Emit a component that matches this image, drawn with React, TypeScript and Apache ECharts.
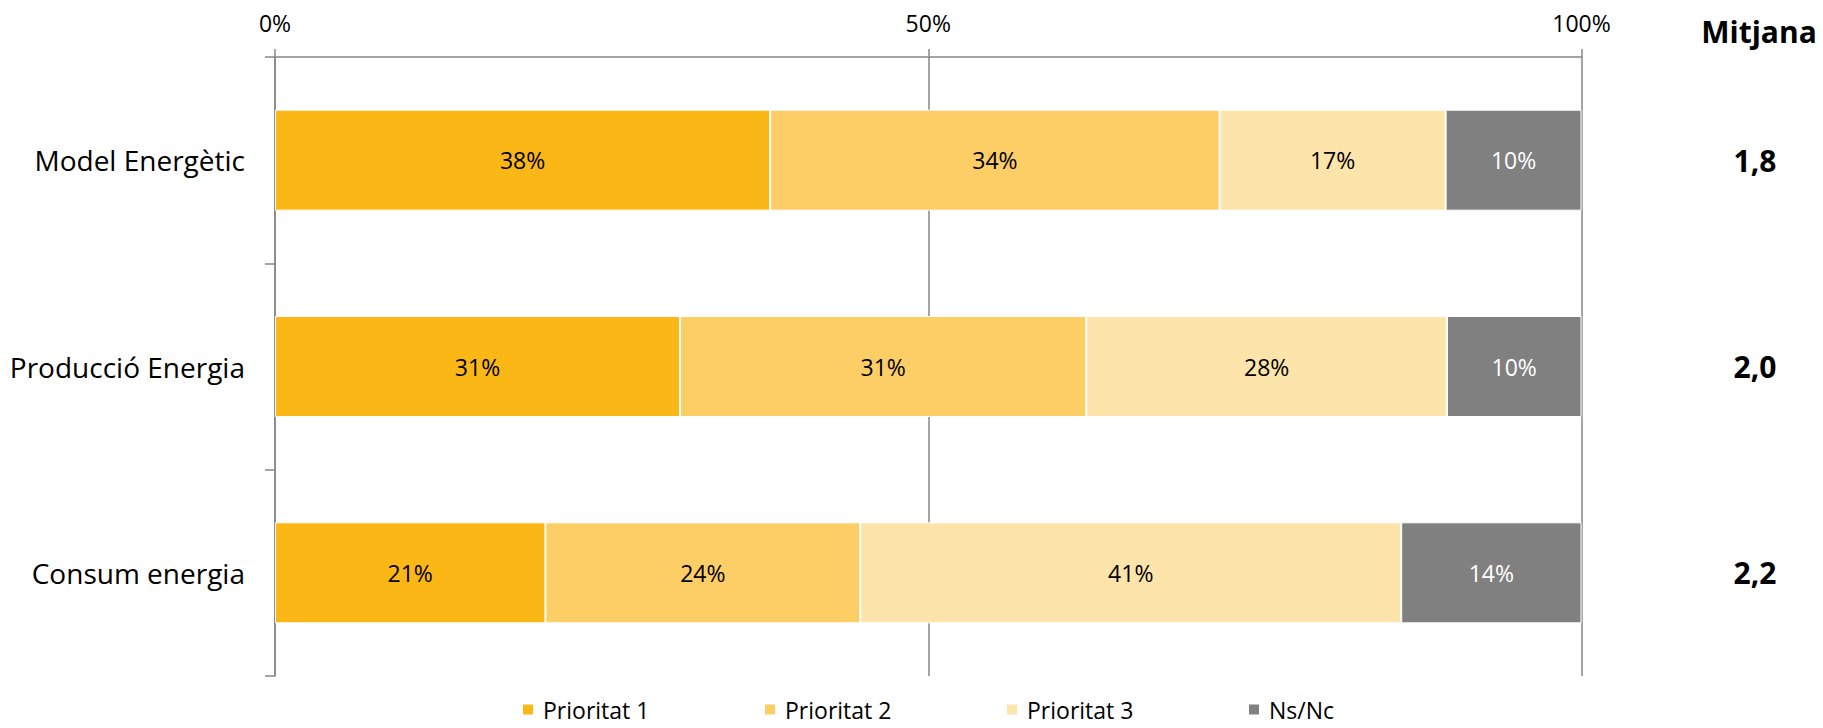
import React, { useEffect, useRef } from "react";
import * as echarts from "echarts";

const categories = ["Model Energètic", "Producció Energia", "Consum energia"];
const seriesNames = ["Prioritat 1", "Prioritat 2", "Prioritat 3", "Ns/Nc"];
const prioritat1 = [37.9, 31.0, 20.7];
const prioritat2 = [34.4, 31.1, 24.1];
const prioritat3 = [17.3, 27.6, 41.4];
const nsnc = [10.4, 10.3, 13.8];
const mitjana = [1.8, 2.0, 2.2];
const xTicks = [0, 50, 100];
const colors = ["#FBB716", "#FDCD66", "#FDE4AA", "#808080"];
const labelColors = ["#000000", "#000000", "#000000", "#FFFFFF"];
const legendLeft = [521, 763, 1005, 1247];

const FONT = "'Open Sans', 'Noto Sans', sans-serif";
const AXIS = "#878787";

export default function App() {
  const ref = useRef<HTMLDivElement>(null);
  useEffect(() => {
    if (!ref.current) return;
    const chart = echarts.init(ref.current, null, { renderer: "svg" });
    const values = [prioritat1, prioritat2, prioritat3, nsnc];
    const option: any = {
      animation: false,
      backgroundColor: "#FFFFFF",
      textStyle: { fontFamily: FONT },
      grid: { left: 275, right: 241.5, top: 57, bottom: 52, containLabel: false },
      legend: seriesNames.map((n, i) => ({
        data: [n],
        left: legendLeft[i],
        top: 698,
        padding: 0,
        icon: "rect",
        itemWidth: 12,
        itemHeight: 12,
        textStyle: {
          fontFamily: FONT,
          fontSize: 23,
          lineHeight: 23,
          color: "#000",
          padding: [0, 0, 0, 4],
        },
        selectedMode: false,
      })),
      graphic: [
        {
          type: "text",
          x: 1759,
          y: 31,
          style: {
            text: "Mitjana",
            font: `bold 30px ${FONT}`,
            fill: "#000",
            textAlign: "center",
            textVerticalAlign: "middle",
          },
        },
      ],
      xAxis: {
        type: "value",
        position: "top",
        min: xTicks[0],
        max: xTicks[xTicks.length - 1],
        interval: xTicks[1] - xTicks[0],
        axisLine: { show: true, lineStyle: { color: AXIS, width: 1.5 } },
        axisTick: { show: true, length: 8, lineStyle: { color: AXIS, width: 1.5 } },
        splitLine: { show: true, lineStyle: { color: AXIS, width: 1.5 } },
        axisLabel: { formatter: "{value}%", fontFamily: FONT, fontSize: 23, color: "#000", margin: 23 },
      },
      yAxis: [
        {
          type: "category",
          data: categories,
          inverse: true,
          axisLine: { show: true, lineStyle: { color: AXIS, width: 1.5 } },
          axisTick: { show: true, length: 10, lineStyle: { color: AXIS, width: 1.5 } },
          splitLine: { show: false },
          axisLabel: { fontFamily: FONT, fontSize: 28, color: "#000", margin: 30 },
        },
        {
          type: "category",
          data: mitjana.map((v) => v.toFixed(1).replace(".", ",")),
          inverse: true,
          position: "right",
          axisLine: { show: false },
          axisTick: { show: false },
          splitLine: { show: false },
          axisLabel: {
            fontFamily: FONT,
            fontSize: 30,
            fontWeight: "bold",
            color: "#000",
            align: "center",
            margin: 173.5,
          },
        },
      ],
      series: seriesNames.map((n, i) => ({
        name: n,
        type: "bar",
        stack: "total",
        yAxisIndex: 0,
        barWidth: 101,
        data: values[i],
        itemStyle: { color: colors[i], borderColor: "#FFFFFF", borderWidth: 1 },
        label: {
          show: true,
          position: "inside",
          formatter: (p: any) => Math.round(p.value) + "%",
          fontFamily: FONT,
          fontSize: 23,
          color: labelColors[i],
        },
      })),
    };
    chart.setOption(option);
    return () => chart.dispose();
  }, []);
  return (
    <div
      ref={ref}
      style={{ position: "absolute", left: 0, top: 0, width: 1823, height: 728 }}
    />
  );
}
